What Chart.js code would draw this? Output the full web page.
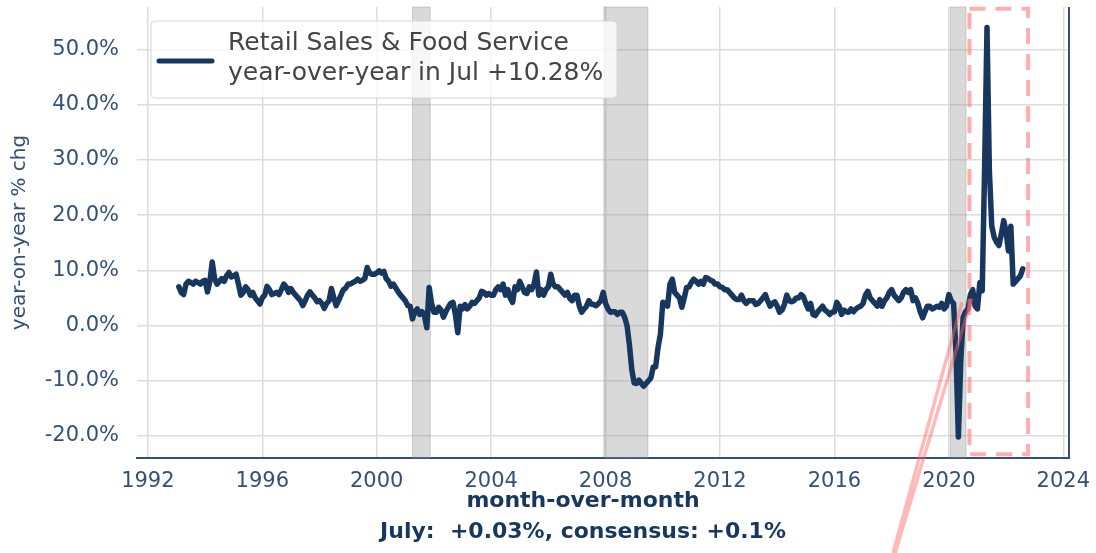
<!DOCTYPE html>
<html>
<head>
<meta charset="utf-8">
<script src="https://cdn.jsdelivr.net/npm/chart.js@4.4.1/dist/chart.umd.min.js"></script>
<style>
  html, body { margin: 0; padding: 0; background: #fff; }
  #wrap { width: 1096px; height: 553px; }
</style>
</head>
<body>
<div id="wrap"><canvas id="retail" width="1096" height="553"></canvas></div>
<script>
// retail sales & food service, y/y % change, monthly Jan 1993 .. Jul 2022
var firstYear = 1993;
var yoy1993 = [7.0, 6.0, 5.6, 7.5, 8.0, 7.8, 7.5, 8.0, 7.8, 7.5, 8.0, 8.2];
var yoy1994 = [6.1, 8.0, 11.5, 8.5, 7.5, 8.0, 8.5, 8.0, 9.0, 9.6, 8.8, 9.0];
var yoy1995 = [9.3, 7.5, 5.5, 6.0, 7.0, 6.5, 5.5, 6.0, 5.0, 4.5, 3.9, 5.0];
var yoy1996 = [5.5, 7.1, 6.5, 5.6, 5.8, 6.0, 5.6, 6.5, 7.5, 7.0, 6.0, 6.7];
var yoy1997 = [6.0, 5.5, 5.0, 4.5, 3.6, 4.5, 5.5, 6.1, 5.5, 5.0, 4.3, 4.5];
var yoy1998 = [4.0, 3.1, 4.0, 4.5, 6.7, 5.0, 3.6, 4.5, 5.5, 6.5, 6.8, 7.5];
var yoy1999 = [7.5, 7.8, 8.0, 8.4, 8.0, 8.2, 8.5, 10.5, 9.5, 9.3, 9.3, 9.5];
var yoy2000 = [9.9, 9.5, 9.8, 8.5, 8.0, 7.1, 7.5, 6.8, 6.1, 5.5, 5.0, 4.5];
var yoy2001 = [3.6, 3.5, 1.2, 2.5, 3.0, 2.0, 2.5, 1.8, -0.4, 6.9, 4.0, 2.4];
var yoy2002 = [2.4, 3.3, 2.8, 1.5, 2.5, 3.3, 4.0, 4.2, 2.0, -1.3, 3.5, 3.0];
var yoy2003 = [3.8, 3.0, 3.5, 4.2, 4.0, 4.5, 5.0, 6.2, 6.0, 5.5, 5.8, 5.5];
var yoy2004 = [5.5, 6.5, 7.0, 6.5, 7.5, 5.5, 6.5, 5.0, 4.2, 7.0, 6.5, 8.0];
var yoy2005 = [7.0, 6.0, 5.8, 7.0, 6.5, 7.5, 9.7, 5.5, 6.5, 5.5, 6.5, 7.0];
var yoy2006 = [9.3, 7.5, 7.0, 7.0, 6.5, 6.0, 5.5, 6.0, 4.9, 4.5, 5.5, 5.5];
var yoy2007 = [3.5, 2.4, 3.0, 3.5, 4.5, 3.9, 3.8, 3.6, 4.0, 4.5, 6.0, 4.0];
var yoy2008 = [3.0, 2.4, 2.5, 2.5, 2.0, 2.4, 2.4, 1.5, 0.0, -3.5, -8.0, -10.4];
var yoy2009 = [-10.5, -9.9, -10.5, -11.0, -10.5, -10.0, -9.5, -7.5, -7.5, -4.0, -1.6, 4.2];
var yoy2010 = [4.0, 3.5, 7.5, 8.4, 6.0, 5.5, 5.0, 3.3, 5.0, 6.9, 7.0, 7.8];
var yoy2011 = [8.4, 8.0, 7.5, 8.0, 7.5, 8.7, 8.5, 8.2, 8.0, 7.5, 7.5, 7.0];
var yoy2012 = [6.9, 6.5, 6.5, 6.0, 5.5, 5.0, 4.7, 4.7, 5.5, 4.5, 4.0, 4.5];
var yoy2013 = [4.5, 4.5, 3.8, 4.0, 4.5, 5.0, 5.6, 4.5, 3.5, 4.0, 4.3, 3.5];
var yoy2014 = [2.4, 2.8, 3.8, 5.5, 4.5, 4.3, 4.5, 5.0, 5.0, 5.6, 5.2, 4.0];
var yoy2015 = [3.0, 4.0, 2.0, 1.8, 2.5, 3.0, 3.5, 2.8, 2.5, 2.0, 2.4, 2.5];
var yoy2016 = [4.2, 3.5, 2.0, 2.8, 2.5, 2.4, 3.0, 2.5, 3.0, 3.3, 3.5, 4.0];
var yoy2017 = [5.5, 6.2, 5.0, 4.5, 4.0, 3.5, 4.7, 3.5, 4.5, 5.0, 6.0, 6.5];
var yoy2018 = [5.5, 5.0, 4.5, 5.0, 6.0, 6.5, 6.0, 6.5, 4.5, 5.0, 4.0, 2.5];
var yoy2019 = [1.4, 2.5, 3.5, 3.5, 3.0, 3.2, 3.5, 3.3, 4.0, 3.0, 3.5, 5.6];
var yoy2020 = [4.5, 4.0, -5.0, -20.2, -6.5, 1.5, 2.5, 3.0, 5.5, 6.5, 3.5, 3.0];
var yoy2021 = [7.8, 6.3, 28.5, 54.0, 28.0, 18.0, 16.0, 15.1, 14.5, 16.5, 19.0, 17.0];
var yoy2022 = [13.5, 18.0, 7.5, 8.0, 8.5, 9.0, 10.28];

var yearTicks = [1992, 1996, 2000, 2004, 2008, 2012, 2016, 2020, 2024];
var pctTicks = [-20, -10, 0, 10, 20, 30, 40, 50];
var recessions = [[2001.25, 2001.87], [2007.94, 2009.48], [2020.05, 2020.6]];
var legendLines = ['Retail Sales & Food Service', 'year-over-year in Jul +10.28%'];
var footLines = ['month-over-month', 'July:  +0.03%, consensus: +0.1%'];

var navy = '#17375e';
var slate = '#34507a';

var allYears = [yoy1993, yoy1994, yoy1995, yoy1996, yoy1997, yoy1998, yoy1999, yoy2000,
  yoy2001, yoy2002, yoy2003, yoy2004, yoy2005, yoy2006, yoy2007, yoy2008, yoy2009,
  yoy2010, yoy2011, yoy2012, yoy2013, yoy2014, yoy2015, yoy2016, yoy2017, yoy2018,
  yoy2019, yoy2020, yoy2021, yoy2022];
// dates are month-end, so each month sits at year + (m+1)/12
var points = [];
allYears.forEach(function (row, i) {
  row.forEach(function (v, m) {
    points.push({ x: firstYear + i + (m + 1) / 12, y: v });
  });
});

var extras = {
  id: 'extras',
  beforeDatasetsDraw: function (chart) {
    var c = chart.ctx, a = chart.chartArea, xs = chart.scales.x;
    c.save();
    recessions.forEach(function (r) {
      var x0 = xs.getPixelForValue(r[0]), x1 = xs.getPixelForValue(r[1]);
      c.fillStyle = 'rgba(140,140,140,0.33)';
      c.fillRect(x0, a.top, x1 - x0, a.bottom - a.top);
      c.strokeStyle = 'rgba(120,120,120,0.3)';
      c.lineWidth = 1;
      c.strokeRect(x0, a.top, x1 - x0, a.bottom - a.top);
    });
    c.restore();
  },
  afterDatasetsDraw: function (chart) {
    var c = chart.ctx, a = chart.chartArea, xs = chart.scales.x, ys = chart.scales.y;
    c.save();
    // dashed box around the 2021-22 stretch
    var bx0 = xs.getPixelForValue(2020.72), bx1 = xs.getPixelForValue(2022.77);
    var by0 = ys.getPixelForValue(57.4), by1 = ys.getPixelForValue(-23.3);
    c.strokeStyle = 'rgba(255,120,120,0.6)';
    c.lineWidth = 4;
    c.setLineDash([16, 10]);
    c.strokeRect(bx0, by0, bx1 - bx0, by1 - by0);
    c.setLineDash([]);
    // pointer wedge
    var ax = xs.getPixelForValue(2018.05), ay = chart.height;
    c.strokeStyle = 'rgba(255,100,100,0.45)';
    c.lineWidth = 3.5;
    c.beginPath();
    c.moveTo(ax, ay);
    c.lineTo(xs.getPixelForValue(2020.46), ys.getPixelForValue(4.2));
    c.moveTo(ax + 2, ay);
    c.lineTo(xs.getPixelForValue(2020.8), ys.getPixelForValue(4.9));
    c.stroke();
    // right spine
    c.strokeStyle = slate;
    c.lineWidth = 2;
    c.beginPath();
    c.moveTo(a.right, a.top);
    c.lineTo(a.right, a.bottom + 1);
    c.stroke();
    // legend
    var lx = a.left + 14, ly = a.top + 14, lw = 466, lh = 77;
    c.fillStyle = 'rgba(255,255,255,0.8)';
    c.strokeStyle = '#d6d6d6';
    c.lineWidth = 1;
    c.beginPath();
    c.roundRect(lx, ly, lw, lh, 4);
    c.fill();
    c.stroke();
    c.strokeStyle = navy;
    c.lineWidth = 5;
    c.lineCap = 'round';
    c.beginPath();
    c.moveTo(lx + 8, ly + 40);
    c.lineTo(lx + 61, ly + 40);
    c.stroke();
    c.fillStyle = '#444444';
    c.font = '25px "DejaVu Sans"';
    c.textBaseline = 'middle';
    c.textAlign = 'left';
    legendLines.forEach(function (t, i) {
      c.fillText(t, lx + 77, ly + 22 + i * 30);
    });
    // footer under the x axis
    c.fillStyle = navy;
    c.font = 'bold 22px "DejaVu Sans"';
    c.textAlign = 'center';
    c.textBaseline = 'alphabetic';
    footLines.forEach(function (t, i) {
      c.fillText(t, 583, 507 + i * 31);
    });
    c.restore();
  }
};

new Chart(document.getElementById('retail'), {
  type: 'line',
  data: {
    datasets: [{
      label: legendLines.join(' '),
      data: points,
      borderColor: navy,
      borderWidth: 5.5,
      borderJoinStyle: 'round',
      borderCapStyle: 'round',
      pointRadius: 0,
      tension: 0,
      fill: false
    }]
  },
  options: {
    responsive: false,
    animation: false,
    layout: { padding: { top: 7, right: 27, left: 0, bottom: 0 } },
    plugins: { legend: { display: false }, tooltip: { enabled: false } },
    scales: {
      x: {
        type: 'linear',
        min: 1991.62,
        max: 2024.2,
        afterBuildTicks: function (s) { s.ticks = yearTicks.map(function (v) { return { value: v }; }); },
        afterFit: function (s) { s.height = 95; s.paddingLeft = 0; s.paddingRight = 0; },
        ticks: {
          color: slate,
          font: { family: 'DejaVu Sans', size: 21 },
          padding: 11,
          maxRotation: 0,
          callback: function (v) { return String(v); }
        },
        grid: { color: '#dddddd', lineWidth: 1.5, drawTicks: false },
        border: { display: true, color: slate, width: 2 }
      },
      y: {
        min: -24,
        max: 57.7,
        afterBuildTicks: function (s) { s.ticks = pctTicks.map(function (v) { return { value: v }; }); },
        afterFit: function (s) { s.width = 137; s.paddingTop = 0; s.paddingBottom = 0; },
        ticks: {
          color: slate,
          font: { family: 'DejaVu Sans', size: 21 },
          padding: 18,
          callback: function (v) { return v.toFixed(1) + '%'; }
        },
        grid: { color: '#dddddd', lineWidth: 1.5, drawTicks: false },
        border: { display: false },
        title: {
          display: true,
          text: 'year-on-year % chg',
          color: slate,
          font: { family: 'DejaVu Sans', size: 20 },
          padding: { top: 8, bottom: 0 }
        }
      }
    }
  },
  plugins: [extras]
});
</script>
</body>
</html>
